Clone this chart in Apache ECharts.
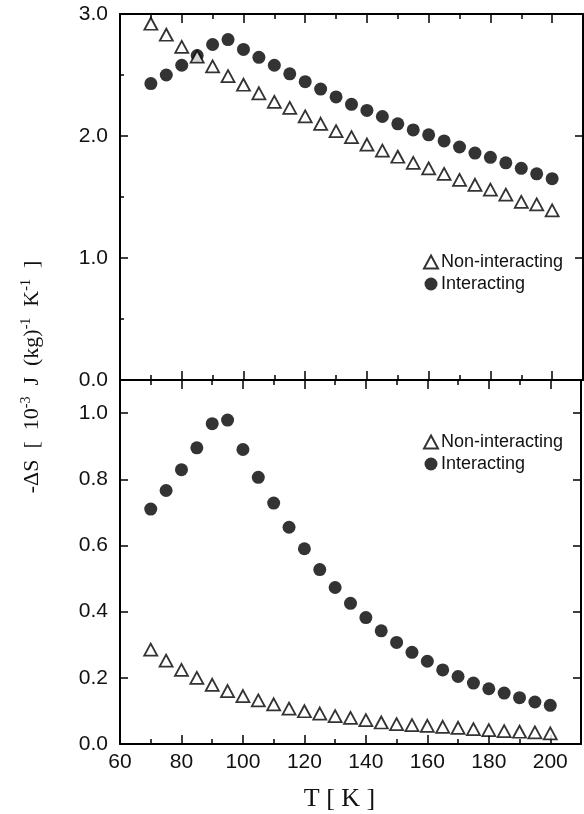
<!DOCTYPE html>
<html>
<head>
<meta charset="utf-8">
<script src="https://cdn.jsdelivr.net/npm/echarts@6/dist/echarts.min.js"></script>
<style>
html,body{margin:0;padding:0;background:#fff;}
#chart{width:584px;height:814px;}
</style>
</head>
<body>
<div id="chart"></div>
<script>
// ---- data ----
var temps = [70,75,80,85,90,95,100,105,110,115,120,125,130,135,140,145,150,155,160,165,170,175,180,185,190,195,200];
var topNonInteracting = [2.92,2.83,2.73,2.65,2.57,2.49,2.42,2.35,2.28,2.23,2.16,2.10,2.04,1.99,1.93,1.88,1.83,1.78,1.735,1.69,1.64,1.60,1.56,1.52,1.46,1.44,1.39];
var topInteracting = [2.43,2.50,2.58,2.66,2.75,2.79,2.71,2.645,2.58,2.51,2.445,2.385,2.32,2.26,2.21,2.16,2.10,2.05,2.01,1.96,1.91,1.86,1.825,1.78,1.735,1.69,1.65];
var botNonInteracting = [0.285,0.252,0.224,0.2,0.179,0.16,0.145,0.132,0.12,0.107,0.099,0.092,0.084,0.079,0.072,0.065,0.06,0.057,0.055,0.052,0.049,0.045,0.042,0.039,0.037,0.035,0.032];
var botInteracting = [0.71,0.766,0.829,0.895,0.968,0.979,0.89,0.806,0.728,0.655,0.59,0.527,0.473,0.425,0.382,0.342,0.307,0.277,0.25,0.224,0.204,0.184,0.167,0.154,0.14,0.127,0.117];
var seriesNames = ['Non-interacting', 'Interacting'];
var xTitle = 'T [ K ]';

function pairs(xs, ys){ return xs.map(function(x,i){ return [x, ys[i]]; }); }

var SANS = '"Liberation Sans", Arial, sans-serif';
var SERIF = '"Liberation Serif", "Times New Roman", serif';
var INK = '#000';

function xAxisCfg(grid, pos, labels){
  return {
    type:'value', gridIndex:grid, position:pos, min:60, max:210, interval:20,
    axisLine:{show:true, onZero:false, lineStyle:{color:INK, width:2}},
    axisTick:{show:true, inside:true, length:9, lineStyle:{color:INK, width:1.5}},
    minorTick:{show:true, splitNumber:2, length:5, lineStyle:{color:INK, width:1.5}},
    splitLine:{show:false}, minorSplitLine:{show:false},
    axisLabel:{show:labels, color:'#111', fontFamily:SANS, fontSize:21, margin:8,
      formatter:function(v){ return v <= 200 ? String(v) : ''; }}
  };
}
function yAxisCfg(grid, pos, labels, max, interval, minor){
  return {
    type:'value', gridIndex:grid, position:pos, min:0, max:max, interval:interval,
    axisLine:{show:true, onZero:false, lineStyle:{color:INK, width:2}},
    axisTick:{show:true, inside:true, length:8, lineStyle:{color:INK, width:1.5}},
    minorTick:{show:minor, splitNumber:2, length:4, lineStyle:{color:INK, width:1.5}},
    splitLine:{show:false},
    axisLabel:{show:labels, color:'#111', fontFamily:SANS, fontSize:21, margin:12, showMaxLabel: max===3,
      formatter:function(v){ return v.toFixed(1); }}
  };
}

var xAxes = [xAxisCfg(0,'bottom',false), xAxisCfg(0,'top',false), xAxisCfg(1,'bottom',true), xAxisCfg(1,'top',false)];
xAxes[2].name = xTitle;
xAxes[2].nameLocation = 'middle';
xAxes[2].nameGap = 42;
xAxes[2].nameTextStyle = {fontFamily:SERIF, fontSize:26, color:'#111', padding:[0,22,0,0]};

var yAxes = [yAxisCfg(0,'left',true,3,1,true), yAxisCfg(0,'right',false,3,1,false),
             yAxisCfg(1,'left',true,1.1,0.2,false), yAxisCfg(1,'right',false,1.1,0.2,false)];

var triStyle = {color:'#fff', borderColor:INK, borderWidth:1.8};
var dotStyle = {color:INK};

function sc(name, xi, yi, data, tri){
  return {
    name:name, type:'scatter', xAxisIndex:xi, yAxisIndex:yi, data:data,
    symbol: tri ? 'triangle' : 'circle', symbolSize: tri ? [13,12] : 13,
    itemStyle: tri ? triStyle : dotStyle, silent:true, z: tri ? 3 : 2
  };
}

var option = {
  animation:false,
  backgroundColor:'#fff',
  grid:[
    {left:120, width:463, top:14, height:366},
    {left:120, width:463, top:380, height:364}
  ],
  xAxis:xAxes,
  yAxis:yAxes,
  legend:[
    {orient:'vertical', left:418, top:248, itemGap:4, itemWidth:14, itemHeight:13, selectedMode:false,
     textStyle:{fontFamily:SANS, fontSize:18, color:'#111', padding:[0,0,0,-2]}, data:seriesNames},
    {orient:'vertical', left:418, top:428, itemGap:4, itemWidth:14, itemHeight:13, selectedMode:false,
     textStyle:{fontFamily:SANS, fontSize:18, color:'#111', padding:[0,0,0,-2]}, data:seriesNames}
  ],
  series:[
    sc(seriesNames[0],0,0,pairs(temps,topNonInteracting),true),
    sc(seriesNames[1],0,0,pairs(temps,topInteracting),false),
    sc(seriesNames[0],2,2,pairs(temps,botNonInteracting),true),
    sc(seriesNames[1],2,2,pairs(temps,botInteracting),false)
  ],
  graphic:[{
    type:'text', x:31, y:377, rotation:Math.PI/2,
    style:{
      text:'{b|-ΔS  [  10}{s|-3}{b|  J  (kg)}{s|-1}{b|  K}{s|-1}{b|  ]}',
      align:'center', verticalAlign:'middle',
      rich:{
        b:{fontFamily:SERIF, fontSize:22, fill:'#111', lineHeight:24, verticalAlign:'bottom'},
        s:{fontFamily:SERIF, fontSize:14, fill:'#111', lineHeight:16, verticalAlign:'top'}
      }
    }
  }]
};

var chart = echarts.init(document.getElementById('chart'), null, {renderer:'canvas'});
chart.setOption(option);
</script>
</body>
</html>
